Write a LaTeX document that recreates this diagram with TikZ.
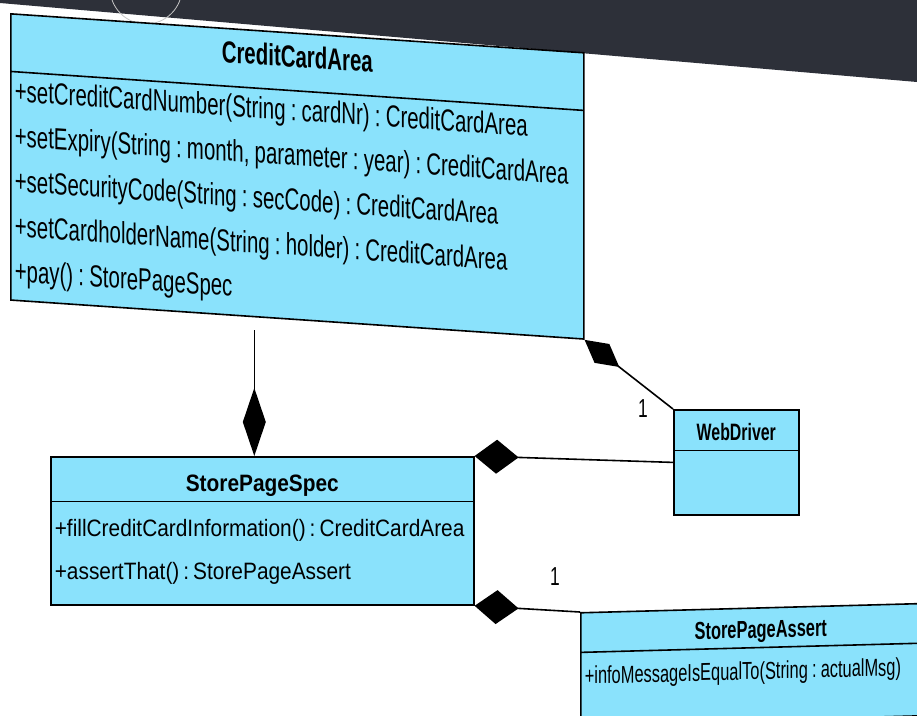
\documentclass[tikz,border=0pt]{standalone}
\usepackage{fontspec}
\setmainfont{Liberation Sans}
\newfontfamily\narrowsans[FakeStretch=0.67]{Liberation Sans}
\newfontfamily\widesans[FakeStretch=0.88]{Liberation Sans}
\usetikzlibrary{shapes.multipart,arrows.meta}

\definecolor{classfill}{RGB}{138,226,252}
\definecolor{deskdark}{RGB}{45,48,57}

% tight spaces, no hyphens, as in the screenshot
\newcommand{\nobreaktext}{\frenchspacing\hyphenpenalty10000\relax
  \spaceskip=0.17em plus 0.05em\relax \xspaceskip=\spaceskip}
\newcommand{\classname}[1]{\makebox[\linewidth]{\bfseries #1}}

\tikzset{
  umlclass/.style={rectangle split, rectangle split parts=2, draw=black, fill=classfill,
    line width=1.6pt, inner xsep=4pt, inner ysep=0pt,
    font=\narrowsans\fontsize{23.7}{43}\selectfont},
  composition/.style={{Diamond[length=44pt,width=34pt]}-, line width=1.6pt},
  mult/.style={font=\narrowsans\fontsize{26}{26}\selectfont, inner sep=0pt},
}

% class box hung at its north west corner, tilted like the photo
\newcommand{\classbox}[5]{%
  \begin{scope}[shift={(#2)}, yslant=#3, transform shape]
    \node[umlclass, anchor=north west, #4] (#1) at (0,0) {#5};
  \end{scope}}

\begin{document}
\begin{tikzpicture}[x=1pt, y=-1pt]
    \useasboundingbox (0,0) rectangle (917,715);
    \fill[white] (0,0) rectangle (917,715);
    \fill[deskdark] (0,0) -- (917,0) -- (917,82) -- (0,3) -- cycle;
    \draw[gray!45, line width=0.8pt] (146,-12) circle (36pt);

    \classbox{cca}{10,13}{-0.068}{text width=565pt, font=\narrowsans\fontsize{30.5}{45}\selectfont}{%
        \rule[-23pt]{0pt}{56pt}\classname{CreditCardArea}
        \nodepart{second}\raggedright\nobreaktext\rule{0pt}{29pt}+setCreditCardNumber(String : cardNr) : CreditCardArea\\
        +setExpiry(String : month, parameter : year) : CreditCardArea\\
        +setSecurityCode(String : secCode) : CreditCardArea\\
        +setCardholderName(String : holder) : CreditCardArea\\
        +pay() : StorePageSpec\rule[-18pt]{0pt}{0pt}}

    \classbox{sps}{50,456}{0}{text width=415pt, font=\widesans\fontsize{23.7}{43}\selectfont}{%
        \rule[-9pt]{0pt}{43pt}\classname{StorePageSpec}
        \nodepart{second}\raggedright\nobreaktext\rule{0pt}{34pt}+fillCreditCardInformation() : CreditCardArea\\
        +assertThat() : StorePageAssert\rule[-25pt]{0pt}{0pt}}

    \classbox{wd}{673,409}{0}{text width=117pt}{%
        \rule[-9pt]{0pt}{39pt}\classname{WebDriver}
        \nodepart{second}\rule{0pt}{63pt}}

    \classbox{spa}{580,612}{0.027}{text width=352pt, font=\narrowsans\fontsize{24.5}{43}\selectfont}{%
        \rule[-9pt]{0pt}{38pt}\classname{StorePageAssert}
        \nodepart{second}\raggedright\nobreaktext\rule{0pt}{31pt}+infoMessageIsEqualTo(String : actualMsg)\rule[-40pt]{0pt}{0pt}}

    \draw[composition, {Diamond[length=68pt,width=23pt]}-, shorten >=10pt]
        ([xshift=-8pt]sps.north) -- ([xshift=-8pt]sps.north |- cca.south);
    \draw[composition, {Diamond[length=44pt,width=24pt]}-] (cca.south east) -- (wd.north west)
        node[mult, pos=1, xshift=-30pt] {1};
    \draw[composition] (sps.north east) -- (wd.west);
    \draw[composition] (sps.south east) -- (spa.north west)
        node[mult, pos=1, xshift=-25pt, yshift=35pt] {1};
\end{tikzpicture}
\end{document}
